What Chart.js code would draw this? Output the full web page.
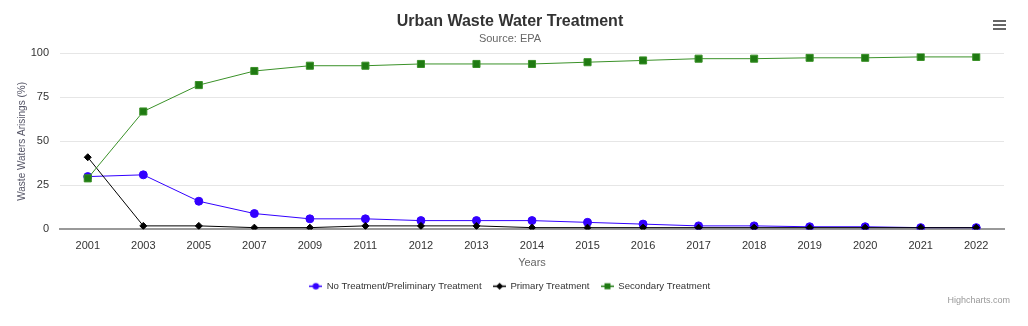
<!DOCTYPE html>
<html>
<head>
<meta charset="utf-8">
<script src="https://cdn.jsdelivr.net/npm/chart.js@4"></script>
<style>
  html, body { margin: 0; padding: 0; background: #fff; }
  #wrap { position: relative; width: 1028px; height: 326px; }
  #menu { position: absolute; left: 993px; top: 20px; width: 13px; }
  #menu div { height: 2px; background: #666; margin-bottom: 2px; }
  #credits { position: absolute; right: 18px; top: 295px; font: 9px "Liberation Sans", Arial, sans-serif; color: #999; }
</style>
</head>
<body>
<div id="wrap">
  <canvas id="wasteChart" width="1028" height="326"></canvas>
  <div id="menu"><div></div><div></div><div></div></div>
  <div id="credits">Highcharts.com</div>
</div>
<script>
const years = ["2001", "2003", "2005", "2007", "2009", "2011", "2012", "2013", "2014",
  "2015", "2016", "2017", "2018", "2019", "2020", "2021", "2022"];
const noTreatment = [30, 31, 16, 9, 6, 6, 5, 5, 5, 4, 3, 2, 2, 1.5, 1.5, 1, 1];
const primary = [41, 2, 2, 1, 1, 2, 2, 2, 1, 1, 1, 1, 1, 1, 1, 1, 1];
const secondary = [29, 67, 82, 90, 93, 93, 94, 94, 94, 95, 96, 97, 97, 97.5, 97.5, 98, 98];
const yTicks = [0, 25, 50, 75, 100];

const font = "'Liberation Sans', Arial, sans-serif";

// small "line + marker" icons like the highcharts legend
function legendIcon(color, shape) {
  const c = document.createElement("canvas");
  c.width = 13;
  c.height = 9;
  const ctx = c.getContext("2d");
  ctx.strokeStyle = color;
  ctx.fillStyle = color;
  ctx.lineWidth = 1.5;
  ctx.beginPath();
  ctx.moveTo(0, 4.5);
  ctx.lineTo(13, 4.5);
  ctx.stroke();
  ctx.beginPath();
  if (shape === "circle") {
    ctx.arc(6.5, 4.5, 3.2, 0, Math.PI * 2);
  } else if (shape === "diamond") {
    ctx.moveTo(6.5, 1);
    ctx.lineTo(10, 4.5);
    ctx.lineTo(6.5, 8);
    ctx.lineTo(3, 4.5);
    ctx.closePath();
  } else {
    ctx.rect(3.5, 1.5, 6, 6);
  }
  ctx.fill();
  return c;
}

const icons = [
  legendIcon("#3300ff", "circle"),
  legendIcon("#000000", "diamond"),
  legendIcon("#1f7a12", "square"),
];

new Chart(document.getElementById("wasteChart"), {
  type: "line",
  data: {
    labels: years,
    datasets: [
      {
        label: "No Treatment/Preliminary Treatment",
        data: noTreatment,
        borderColor: "#3300ff",
        backgroundColor: "#3300ff",
        borderWidth: 1,
        pointStyle: "circle",
        pointRadius: 4,
        order: 3,
      },
      {
        label: "Primary Treatment",
        data: primary,
        borderColor: "#000000",
        backgroundColor: "#000000",
        borderWidth: 1,
        pointStyle: "rectRot",
        pointRadius: 3.5,
        order: 2,
      },
      {
        label: "Secondary Treatment",
        data: secondary,
        borderColor: "#3a9128",
        backgroundColor: "#1f7a12",
        borderWidth: 1,
        pointStyle: "rect",
        pointRadius: 5,
        order: 1,
      },
    ],
  },
  options: {
    responsive: false,
    animation: false,
    layout: { padding: { left: 16, right: 24, top: 0, bottom: 25 } },
    plugins: {
      title: {
        display: true,
        text: "Urban Waste Water Treatment",
        color: "#333333",
        font: { family: font, size: 16, weight: "bold" },
        padding: { top: 12, bottom: 1 },
      },
      subtitle: {
        display: true,
        text: "Source: EPA",
        color: "#666666",
        font: { family: font, size: 11 },
        padding: { top: 0, bottom: 8 },
      },
      legend: {
        position: "bottom",
        labels: {
          usePointStyle: true,
          pointStyleWidth: 12,
          boxWidth: 12,
          boxHeight: 9,
          padding: 12,
          color: "#333333",
          font: { family: font, size: 9.6 },
          sort: (a, b) => a.datasetIndex - b.datasetIndex,
          generateLabels: (chart) => {
            const items = Chart.defaults.plugins.legend.labels.generateLabels(chart);
            items.forEach((it) => { it.pointStyle = icons[it.datasetIndex]; });
            return items;
          },
        },
      },
      tooltip: { enabled: false },
    },
    scales: {
      x: {
        offset: true,
        grid: { display: false, drawTicks: false },
        border: { color: "#999999", width: 2 },
        ticks: { color: "#333333", font: { family: font, size: 11 }, padding: 10, maxRotation: 0, autoSkip: false },
        title: { display: true, text: "Years", color: "#666666", font: { family: font, size: 11 }, padding: { top: 1, bottom: 0 } },
        afterFit: (scale) => { scale.height = 40; },
      },
      y: {
        min: 0,
        max: 100,
        afterBuildTicks: (scale) => { scale.ticks = yTicks.map((v) => ({ value: v })); },
        grid: { color: "#e6e6e6", drawTicks: false },
        border: { display: false },
        ticks: { color: "#333333", font: { family: font, size: 11 }, padding: 11 },
        title: { display: true, text: "Waste Waters Arisings (%)", color: "#555566", font: { family: font, size: 10 }, padding: { top: 0, bottom: 8 } },
        afterFit: (scale) => { scale.width = 44; },
      },
    },
  },
});
</script>
</body>
</html>
